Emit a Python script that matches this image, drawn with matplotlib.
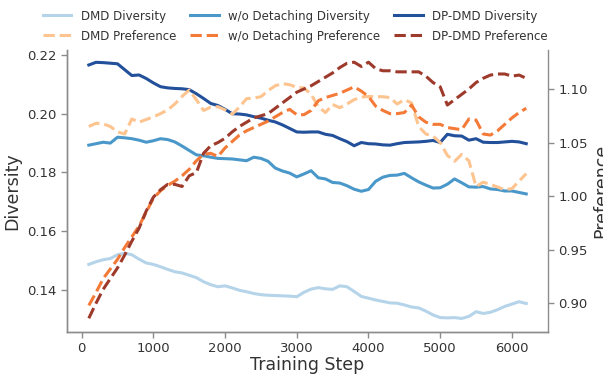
import matplotlib
matplotlib.use("Agg")
import matplotlib.pyplot as plt
import numpy as np

steps = np.arange(100, 6300, 100)

dmd_div = [0.1487, 0.1496, 0.1503, 0.1507, 0.1520, 0.1525, 0.1520, 0.1505, 0.1492, 0.1487,
           0.1479, 0.1470, 0.1462, 0.1458, 0.1450, 0.1442, 0.1428, 0.1418, 0.1411, 0.1414,
           0.1407, 0.1399, 0.1394, 0.1388, 0.1384, 0.1382, 0.1381, 0.1380, 0.1379, 0.1377,
           0.1392, 0.1403, 0.1408, 0.1404, 0.1402, 0.1414, 0.1411, 0.1395, 0.1378, 0.1372,
           0.1366, 0.1361, 0.1356, 0.1355, 0.1349, 0.1342, 0.1339, 0.1328, 0.1315, 0.1306,
           0.1305, 0.1306, 0.1303, 0.1310, 0.1326, 0.1320, 0.1324, 0.1333, 0.1344, 0.1352,
           0.1360, 0.1354]
wo_div = [0.1893, 0.1898, 0.1903, 0.1900, 0.1920, 0.1918, 0.1915, 0.1910, 0.1903, 0.1908,
          0.1915, 0.1912, 0.1904, 0.1890, 0.1875, 0.1860, 0.1857, 0.1852, 0.1848, 0.1847,
          0.1846, 0.1843, 0.1840, 0.1852, 0.1848, 0.1838, 0.1815, 0.1805, 0.1798, 0.1785,
          0.1795, 0.1806, 0.1782, 0.1778, 0.1766, 0.1764, 0.1755, 0.1743, 0.1736, 0.1742,
          0.1770, 0.1784, 0.1790, 0.1791, 0.1797, 0.1782, 0.1768, 0.1757, 0.1747, 0.1748,
          0.1760, 0.1778, 0.1765, 0.1751, 0.1750, 0.1752, 0.1744, 0.1742, 0.1737, 0.1737,
          0.1732, 0.1727]
dp_div = [0.2166, 0.2175, 0.2174, 0.2172, 0.2170, 0.2150, 0.2130, 0.2132, 0.2120, 0.2105,
          0.2092, 0.2088, 0.2086, 0.2085, 0.2082, 0.2068, 0.2052, 0.2035, 0.2028, 0.2015,
          0.2000, 0.1999, 0.1996, 0.1990, 0.1985, 0.1978, 0.1972, 0.1962, 0.1950, 0.1938,
          0.1937, 0.1938, 0.1938, 0.1930, 0.1926, 0.1915, 0.1905, 0.1891, 0.1902, 0.1898,
          0.1897, 0.1894, 0.1893, 0.1898, 0.1902, 0.1903, 0.1904, 0.1906, 0.1909, 0.1902,
          0.1930, 0.1925, 0.1924, 0.1910, 0.1915, 0.1903, 0.1902, 0.1902, 0.1904, 0.1906,
          0.1904, 0.1898]

dmd_pref = [1.065, 1.068, 1.0675, 1.065, 1.060, 1.058, 1.072, 1.069, 1.0715, 1.074,
            1.077, 1.0805, 1.086, 1.093, 1.099, 1.090, 1.080, 1.083, 1.0835, 1.0805,
            1.0765, 1.083, 1.091, 1.0915, 1.0928, 1.0985, 1.103, 1.105, 1.104, 1.1015,
            1.101, 1.095, 1.0835, 1.078, 1.0855, 1.0825, 1.086, 1.090, 1.0925, 1.093,
            1.0928, 1.0928, 1.092, 1.086, 1.090, 1.087, 1.065, 1.058, 1.056, 1.050,
            1.038, 1.0325, 1.039, 1.033, 1.009, 1.013, 1.011, 1.0085, 1.006, 1.007,
            1.014, 1.021]
wo_pref = [0.898, 0.910, 0.923, 0.932, 0.941, 0.952, 0.962, 0.972, 0.985, 0.998,
           1.005, 1.010, 1.014, 1.019, 1.025, 1.033, 1.039, 1.040, 1.037, 1.045,
           1.051, 1.057, 1.061, 1.064, 1.067, 1.070, 1.074, 1.078, 1.081, 1.076,
           1.076, 1.080, 1.089, 1.092, 1.094, 1.096, 1.099, 1.102, 1.098, 1.093,
           1.084, 1.080, 1.077, 1.077, 1.078, 1.085, 1.074, 1.069, 1.067, 1.067,
           1.064, 1.063, 1.062, 1.072, 1.071, 1.058, 1.057, 1.061, 1.067, 1.073,
           1.078, 1.082]
dp_pref = [0.886, 0.900, 0.913, 0.923, 0.933, 0.945, 0.958, 0.970, 0.986, 0.999,
           1.006, 1.011, 1.011, 1.009, 1.019, 1.022, 1.040, 1.047, 1.050, 1.054,
           1.060, 1.065, 1.069, 1.073, 1.075, 1.077, 1.082, 1.087, 1.092, 1.097,
           1.100, 1.103, 1.107, 1.111, 1.115, 1.120, 1.124, 1.125, 1.121, 1.125,
           1.119, 1.117, 1.117, 1.116, 1.116, 1.116, 1.116, 1.112, 1.106, 1.102,
           1.085, 1.090, 1.095, 1.100, 1.106, 1.110, 1.113, 1.114, 1.114, 1.112,
           1.113, 1.110]

methods = ["DMD", "w/o Detaching", "DP-DMD"]
div_colors = ["#b5d4e9", "#4a98c9", "#23509a"]
pref_colors = ["#fdc48f", "#f47a38", "#9e3a2b"]

plt.rcParams["font.family"] = "DejaVu Sans"
spine_c = "#8c8c8c"
text_c = "#333333"

fig = plt.figure(figsize=(6.03, 3.75), dpi=100)
ax = fig.add_axes([0.111, 0.1155, 0.798, 0.7512])
ax2 = ax.twinx()

handles = []
for m, d, p, cd, cp in zip(methods, [dmd_div, wo_div, dp_div], [dmd_pref, wo_pref, dp_pref],
                           div_colors, pref_colors):
    h1, = ax.plot(steps, d, color=cd, lw=2.2, label=f"{m} Diversity")
    h2, = ax2.plot(steps, p, color=cp, lw=2.2, ls="--", label=f"{m} Preference")
    handles += [h1, h2]

ax.set_xlim(-205, 6505)
ax.set_ylim(0.1258, 0.2217)
ax2.set_ylim(0.8735, 1.1364)
ax.set_xticks(range(0, 7000, 1000))
ax.set_yticks([0.14, 0.16, 0.18, 0.20, 0.22])
ax2.set_yticks([0.90, 0.95, 1.00, 1.05, 1.10])

ax.set_xlabel("Training Step", fontsize=12.5, color=text_c, labelpad=1)
ax.set_ylabel("Diversity", fontsize=12.5, color=text_c, labelpad=4)
ax2.set_ylabel("Preference", fontsize=12.5, color=text_c, labelpad=3)

for a in (ax, ax2):
    a.spines["top"].set_visible(False)
    for s in a.spines.values():
        s.set_color(spine_c)
        s.set_linewidth(1.0)
    a.tick_params(colors=spine_c, labelcolor=text_c, labelsize=9.5, length=4, width=1)
ax.spines["right"].set_visible(False)

fig.legend(handles=handles, loc="upper center", bbox_to_anchor=(0.49, 1.003), ncol=3,
           frameon=False, fontsize=8.5, handlelength=2.4, handletextpad=0.8,
           columnspacing=1.2, labelspacing=0.6, labelcolor=text_c)

fig.savefig("out.png", dpi=100)
